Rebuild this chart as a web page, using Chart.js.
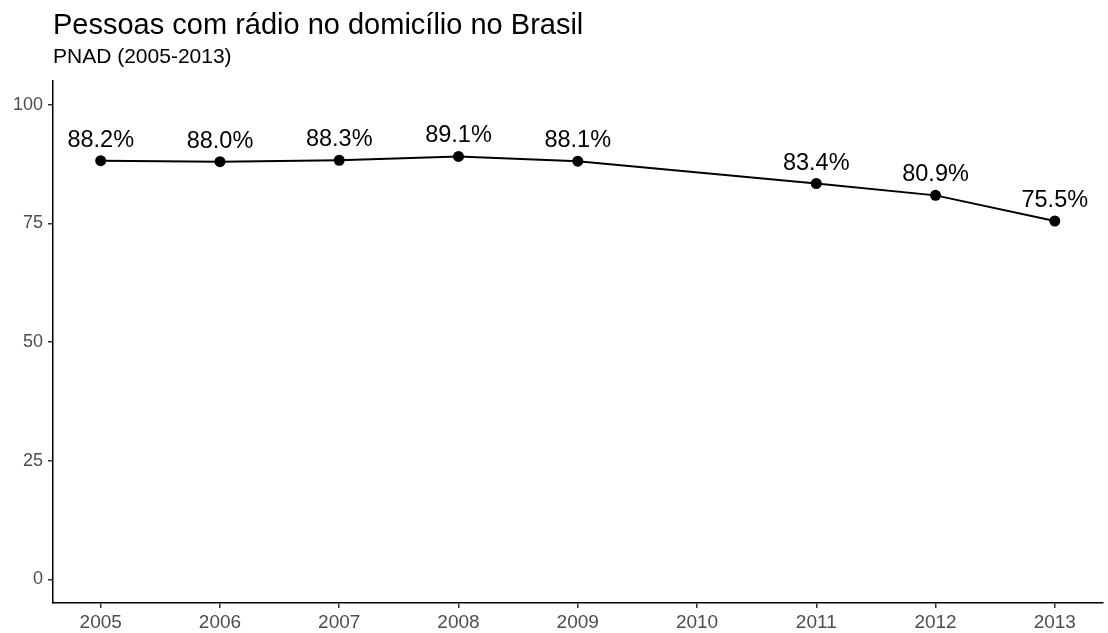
<!DOCTYPE html>
<html>
<head>
<meta charset="utf-8">
<script src="https://cdn.jsdelivr.net/npm/chart.js@4"></script>
<style>
  html, body { margin: 0; padding: 0; background: #fff; }
  #wrap { width: 1108px; height: 633px; }
</style>
</head>
<body>
<div id="wrap"><canvas id="radioChart" width="1108" height="633"></canvas></div>
<script>
//data
const anos = [2005, 2006, 2007, 2008, 2009, 2011, 2012, 2013];
const percentuais = [88.2, 88.0, 88.3, 89.1, 88.1, 83.4, 80.9, 75.5];
const x_ticks = [2005, 2006, 2007, 2008, 2009, 2010, 2011, 2012, 2013];
const y_ticks = [0, 25, 50, 75, 100];

const font_family = "'Liberation Sans', Arial, Helvetica, sans-serif";

//labels above each point
const pointLabels = {
    id: 'pointLabels',
    afterDatasetsDraw(chart) {
        const ctx = chart.ctx;
        const meta = chart.getDatasetMeta(0);
        ctx.save();
        ctx.font = "23.5px " + font_family;
        ctx.fillStyle = "#000";
        ctx.textAlign = "center";
        ctx.textBaseline = "alphabetic";
        meta.data.forEach((pt, i) => {
            ctx.fillText(percentuais[i].toFixed(1) + "%", pt.x, pt.y - 14);
        });
        ctx.restore();
    }
};

let radio_chart = document.getElementById("radioChart").getContext('2d');

let chart = new Chart(radio_chart, {
    type: "line",
    data: {
        datasets: [{
            label: 'Pessoas com rádio',
            data: anos.map((a, i) => ({ x: a, y: percentuais[i] })),
            borderColor: '#000',
            backgroundColor: '#000',
            borderWidth: 2,
            pointRadius: 5.5,
            pointBackgroundColor: '#000',
            pointBorderWidth: 0,
            fill: false,
            tension: 0
        }]
    },
    options: {
        responsive: false,
        animation: false,
        layout: { padding: { left: 0, right: 3, top: 0, bottom: 0 } },
        plugins: {
            legend: { display: false },
            tooltip: { enabled: false },
            title: {
                display: true,
                text: 'Pessoas com rádio no domicílio no Brasil',
                align: 'start',
                fullSize: false,
                color: '#000',
                font: { family: font_family, size: 29, weight: 'normal', lineHeight: 1.2 },
                padding: { top: 9, bottom: 0 }
            },
            subtitle: {
                display: true,
                text: 'PNAD (2005-2013)',
                align: 'start',
                fullSize: false,
                color: '#000',
                font: { family: font_family, size: 21, weight: 'normal', lineHeight: 1.2 },
                padding: { top: 1, bottom: 11 }
            }
        },
        scales: {
            x: {
                type: 'linear',
                min: 2004.6,
                max: 2013.4,
                afterBuildTicks: (scale) => { scale.ticks = x_ticks.map(v => ({ value: v })); },
                afterFit: (scale) => { scale.height = 30; },
                grid: { drawOnChartArea: false, drawTicks: true, tickLength: 5, color: '#333', lineWidth: 1.5 },
                border: { display: true, color: '#000', width: 1.5 },
                ticks: {
                    color: '#4d4d4d',
                    padding: 3,
                    autoSkip: false,
                    maxRotation: 0,
                    font: { family: font_family, size: 19 },
                    callback: (v) => String(v)
                }
            },
            y: {
                min: -5,
                max: 105,
                afterBuildTicks: (scale) => { scale.ticks = y_ticks.map(v => ({ value: v })); },
                afterFit: (scale) => { scale.width = 53; },
                grid: { drawOnChartArea: false, drawTicks: true, tickLength: 5, color: '#333', lineWidth: 1.5 },
                border: { display: true, color: '#000', width: 1.5 },
                ticks: {
                    color: '#4d4d4d',
                    padding: 5,
                    font: { family: font_family, size: 18 },
                    callback: (v) => String(v)
                }
            }
        }
    },
    plugins: [pointLabels]
});
</script>
</body>
</html>
